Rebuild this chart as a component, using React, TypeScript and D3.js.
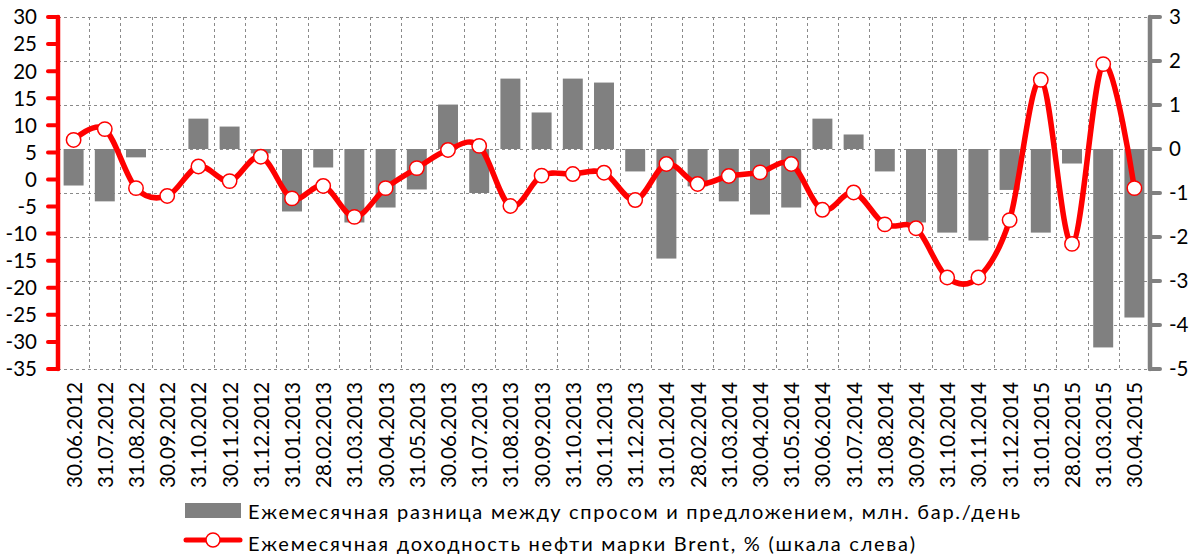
import React, { useEffect, useRef } from 'react'
import * as d3 from 'd3'

const dates = [
  '30.06.2012', '31.07.2012', '31.08.2012', '30.09.2012', '31.10.2012', '30.11.2012', '31.12.2012',
  '31.01.2013', '28.02.2013', '31.03.2013', '30.04.2013', '31.05.2013', '30.06.2013', '31.07.2013',
  '31.08.2013', '30.09.2013', '31.10.2013', '30.11.2013', '31.12.2013', '31.01.2014', '28.02.2014',
  '31.03.2014', '30.04.2014', '31.05.2014', '30.06.2014', '31.07.2014', '31.08.2014', '30.09.2014',
  '31.10.2014', '30.11.2014', '31.12.2014', '31.01.2015', '28.02.2015', '31.03.2015', '30.04.2015'
]

// supply/demand balance, mb/d (right axis)
const balance = [
  -0.83, -1.19, -0.19, 0, 0.69, 0.51, -0.1, -1.42, -0.42, -1.67, -1.33, -0.92, 1.01, -1.0,
  1.6, 0.83, 1.6, 1.51, -0.51, -2.49, -0.85, -1.19, -1.49, -1.33, 0.69, 0.33, -0.51, -1.67,
  -1.9, -2.08, -0.93, -1.9, -0.33, -4.51, -3.83
]

// Brent monthly return, % (left axis)
const brent = [
  7.3, 9.3, -1.6, -3.05, 2.4, -0.3, 4.2, -3.5, -1.2, -6.9, -1.6, 2.1, 5.45, 6.2,
  -4.9, 0.7, 1.0, 1.25, -3.8, 2.86, -0.83, 0.65, 1.3, 2.86, -5.6, -2.4, -8.3, -9.0,
  -18.1, -18.1, -7.5, 18.4, -11.9, 21.3, -1.6
]

const leftTicks = [30, 25, 20, 15, 10, 5, 0, -5, -10, -15, -20, -25, -30, -35]
const rightTicks = [3, 2, 1, 0, -1, -2, -3, -4, -5]

const legendBars = 'Ежемесячная разница между спросом и предложением, млн. бар./день'
const legendLine = 'Ежемесячная доходность нефти марки Brent, % (шкала слева)'

const W = 1192
const H = 555
const FONT = 'Lato, "Open Sans", sans-serif'

export default function App() {
  const ref = useRef<SVGSVGElement>(null)

  useEffect(() => {
    const svg = d3.select(ref.current)
    svg.selectAll('*').remove()

    const left = 58, right = 1150, top = 17, bottom = 369
    const red = '#ff0000'
    const grey = '#808080'

    const x = d3.scaleBand().domain(dates).range([left, right]).paddingInner(0.36).paddingOuter(0.18)
    const step = x.step()
    const cx = (d: string) => (x(d) as number) + x.bandwidth() / 2

    const yL = d3.scaleLinear().domain([-35, 30]).range([bottom, top])
    const yR = d3.scaleLinear().domain([-5, 3]).range([bottom, top])

    // grid
    const grid = svg.append('g')
      .attr('stroke', '#8a8a8a')
      .attr('stroke-width', 1)
      .attr('stroke-dasharray', '3,3')
      .attr('shape-rendering', 'crispEdges')
    grid.selectAll('line.h')
      .data(rightTicks)
      .enter()
      .append('line')
      .attr('class', 'h')
      .attr('x1', left).attr('x2', right)
      .attr('y1', d => Math.round(yR(d)) + 0.5)
      .attr('y2', d => Math.round(yR(d)) + 0.5)
    grid.selectAll('line.v')
      .data(dates.slice(1))
      .enter()
      .append('line')
      .attr('class', 'v')
      .attr('x1', d => Math.round(cx(d) - step / 2) + 0.5)
      .attr('x2', d => Math.round(cx(d) - step / 2) + 0.5)
      .attr('y1', top).attr('y2', bottom)

    // bars
    svg.append('g')
      .selectAll('rect')
      .data(balance)
      .enter()
      .append('rect')
      .attr('x', (d, i) => x(dates[i]) as number)
      .attr('width', x.bandwidth())
      .attr('y', d => yR(Math.max(0, d)))
      .attr('height', d => Math.abs(yR(d) - yR(0)))
      .attr('fill', grey)

    // smoothed line
    const line = d3.line<number>()
      .x((d, i) => cx(dates[i]))
      .y(d => yL(d))
      .curve(d3.curveCatmullRom.alpha(0))

    svg.append('path')
      .datum(brent)
      .attr('d', line)
      .attr('fill', 'none')
      .attr('stroke', red)
      .attr('stroke-width', 5.5)
      .attr('stroke-linejoin', 'round')

    svg.append('g')
      .selectAll('circle')
      .data(brent)
      .enter()
      .append('circle')
      .attr('cx', (d, i) => cx(dates[i]))
      .attr('cy', d => yL(d))
      .attr('r', 7.2)
      .attr('fill', '#fff')
      .attr('stroke', red)
      .attr('stroke-width', 1.5)

    // left axis
    const la = svg.append('g')
    la.append('line')
      .attr('x1', left).attr('x2', left)
      .attr('y1', top).attr('y2', bottom)
      .attr('stroke', red).attr('stroke-width', 4.5).attr('stroke-linecap', 'round')
    la.selectAll('line.t')
      .data(leftTicks)
      .enter()
      .append('line')
      .attr('class', 't')
      .attr('x1', left - 10).attr('x2', left)
      .attr('y1', d => yL(d)).attr('y2', d => yL(d))
      .attr('stroke', red).attr('stroke-width', 4).attr('stroke-linecap', 'round')
    la.selectAll('text')
      .data(leftTicks)
      .enter()
      .append('text')
      .attr('x', 37)
      .attr('y', d => yL(d))
      .attr('dy', '0.36em')
      .attr('text-anchor', 'end')
      .attr('font-family', FONT)
      .attr('font-size', 20.5)
      .attr('fill', '#000')
      .text(d => d)

    // right axis
    const ra = svg.append('g')
    ra.append('line')
      .attr('x1', right).attr('x2', right)
      .attr('y1', top).attr('y2', bottom)
      .attr('stroke', grey).attr('stroke-width', 4.5).attr('stroke-linecap', 'round')
    ra.selectAll('line.t')
      .data(rightTicks)
      .enter()
      .append('line')
      .attr('class', 't')
      .attr('x1', right).attr('x2', right + 10)
      .attr('y1', d => yR(d)).attr('y2', d => yR(d))
      .attr('stroke', grey).attr('stroke-width', 4).attr('stroke-linecap', 'round')
    ra.selectAll('text')
      .data(rightTicks)
      .enter()
      .append('text')
      .attr('x', 1169)
      .attr('y', d => yR(d))
      .attr('dy', '0.36em')
      .attr('text-anchor', 'start')
      .attr('font-family', FONT)
      .attr('font-size', 20.5)
      .attr('fill', '#000')
      .text(d => d)

    // category labels
    svg.append('g')
      .selectAll('text')
      .data(dates)
      .enter()
      .append('text')
      .attr('transform', d => `translate(${cx(d)},382) rotate(-90)`)
      .attr('dy', '0.36em')
      .attr('text-anchor', 'end')
      .attr('font-family', FONT)
      .attr('font-size', 22)
      .attr('textLength', 106)
      .attr('lengthAdjust', 'spacingAndGlyphs')
      .attr('fill', '#000')
      .text(d => d)

    // legend
    const lg = svg.append('g').attr('font-family', FONT).attr('font-size', 20).attr('fill', '#000')
    lg.append('rect')
      .attr('x', 185).attr('y', 503).attr('width', 56).attr('height', 15)
      .attr('fill', grey)
    lg.append('text')
      .attr('x', 248).attr('y', 519)
      .attr('textLength', 772)
      .attr('lengthAdjust', 'spacing')
      .text(legendBars)
    lg.append('line')
      .attr('x1', 186).attr('x2', 240).attr('y1', 540).attr('y2', 540)
      .attr('stroke', red).attr('stroke-width', 5).attr('stroke-linecap', 'round')
    lg.append('circle')
      .attr('cx', 213).attr('cy', 540).attr('r', 7)
      .attr('fill', '#fff').attr('stroke', red).attr('stroke-width', 1.5)
    lg.append('text')
      .attr('x', 248).attr('y', 551)
      .attr('textLength', 667)
      .attr('lengthAdjust', 'spacing')
      .text(legendLine)
  }, [])

  return (
    <svg
      ref={ref}
      width={W}
      height={H}
      style={{ position: 'absolute', left: 0, top: 0, background: '#fff', display: 'block' }}
    />
  )
}
